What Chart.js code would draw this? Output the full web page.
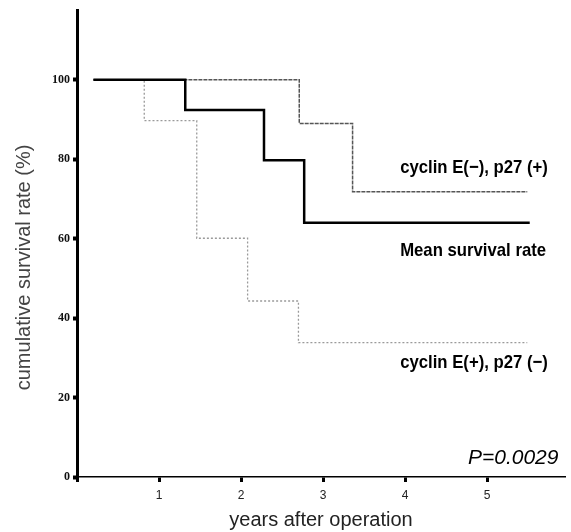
<!DOCTYPE html>
<html><head><meta charset="utf-8">
<script src="https://cdn.jsdelivr.net/npm/chart.js@4"></script>
<style>html,body{margin:0;padding:0;background:#fff}#wrap{width:571px;height:532px;position:relative}</style>
</head><body><div id="wrap"><canvas id="c"></canvas></div>
<script>
// ---- data ----
const meanYears = [0.2, 1.32, 2.28, 2.77, 5.52];
const meanRates = [100, 92.4, 79.7, 64, 64];
const negYears = [0.2, 2.71, 3.36, 5.49];
const negRates = [100, 89, 71.8, 71.8];
const posYears = [0.2, 0.82, 1.46, 2.08, 2.70, 5.49];
const posRates = [100, 89.7, 60.1, 44.3, 33.8, 33.8];
const yTicks = [0, 20, 40, 60, 80, 100];
const xTicks = [0, 1, 2, 3, 4, 5];
const seriesLabels = ['cyclin E(\u2212), p27 (+)', 'Mean survival rate', 'cyclin E(+), p27 (\u2212)'];
const xTitle = 'years after operation';
const yTitle = 'cumulative survival rate (%)';
const pText = 'P=0.0029';

const toPts = (xs, ys) => xs.map((v, i) => ({x: v, y: ys[i]}));

const textPlugin = {
  id: 'texts',
  afterDraw(chart) {
    const {ctx, scales: {x, y}} = chart;
    ctx.save();
    // y axis title
    ctx.fillStyle = '#444';
    ctx.font = '20px "Liberation Sans", Arial, sans-serif';
    ctx.textAlign = 'center';
    ctx.textBaseline = 'middle';
    ctx.save();
    ctx.translate(24, y.getPixelForValue(52.75));
    ctx.rotate(-Math.PI / 2);
    ctx.fillText(yTitle, 0, 0);
    ctx.restore();
    // curve labels
    ctx.fillStyle = '#000';
    ctx.font = 'bold 19px "Liberation Sans", Arial, sans-serif';
    ctx.textAlign = 'left';
    const lab = [[seriesLabels[0], 3.94, 77.75], [seriesLabels[1], 3.94, 57], [seriesLabels[2], 3.94, 28.8]];
    lab.forEach(([t, xv, yv]) => {
      ctx.save();
      ctx.translate(x.getPixelForValue(xv), y.getPixelForValue(yv));
      ctx.scale(0.88, 1);
      ctx.fillText(t, 0, 0);
      ctx.restore();
    });
    // p value
    ctx.font = 'italic 21px "Liberation Sans", Arial, sans-serif';
    ctx.textAlign = 'right';
    ctx.fillText(pText, x.getPixelForValue(5.87), y.getPixelForValue(4.75));
    ctx.restore();
  }
};

new Chart(document.getElementById('c'), {
  type: 'line',
  data: {
    datasets: [
      {label: seriesLabels[1], data: toPts(meanYears, meanRates), borderColor: '#000', borderWidth: 2.5, stepped: 'before', pointRadius: 0, fill: false, order: 0},
      {label: seriesLabels[0], data: toPts(negYears, negRates), borderColor: '#555', borderWidth: 1.5, borderDash: [4, 1], stepped: 'before', pointRadius: 0, fill: false, order: 1},
      {label: seriesLabels[2], data: toPts(posYears, posRates), borderColor: '#9a9a9a', borderWidth: 1.3, borderDash: [2, 2], stepped: 'before', pointRadius: 0, fill: false, order: 2}
    ]
  },
  options: {
    responsive: true,
    maintainAspectRatio: false,
    devicePixelRatio: 1,
    animation: false,
    layout: {padding: {top: 7, right: 6, left: 0, bottom: 0}},
    plugins: {legend: {display: false}, tooltip: {enabled: false}},
    scales: {
      x: {
        type: 'linear', min: 0, max: 5.95,
        afterBuildTicks: s => { s.ticks = xTicks.map(v => ({value: v})); },
        afterFit: s => { s.height = 55; },
        ticks: {callback: v => v === 0 ? '' : String(v), font: {size: 12, family: '"Liberation Sans", Arial, sans-serif'}, color: '#222', padding: 6, maxRotation: 0, autoSkip: false},
        grid: {drawOnChartArea: false, drawTicks: true, tickLength: 5, tickWidth: 3, color: '#000'},
        border: {display: true, color: '#000', width: 1.5},
        title: {display: true, text: xTitle, font: {size: 20, family: '"Liberation Sans", Arial, sans-serif'}, color: '#222', padding: {top: 0, bottom: 0}}
      },
      y: {
        type: 'linear', min: 0, max: 117.5,
        afterBuildTicks: s => { s.ticks = yTicks.map(v => ({value: v})); },
        afterFit: s => { s.width = 77; },
        ticks: {font: {size: 12, weight: 'bold', family: '"Liberation Serif", serif'}, color: '#111', padding: 3},
        grid: {drawOnChartArea: false, drawTicks: true, tickLength: 4, tickWidth: 4, color: '#000'},
        border: {display: true, color: '#000', width: 3}
      }
    }
  },
  plugins: [textPlugin]
});
</script>
</body></html>
